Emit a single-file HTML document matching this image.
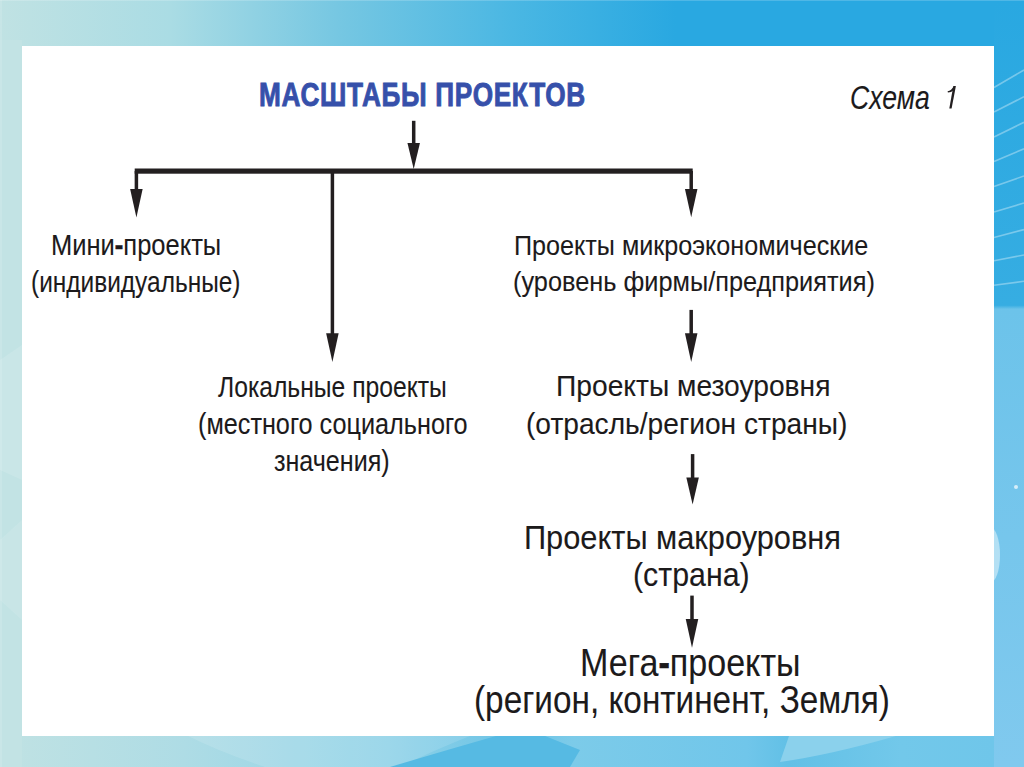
<!DOCTYPE html>
<html><head><meta charset="utf-8"><style>
html,body{margin:0;padding:0;width:1024px;height:767px;overflow:hidden}
body{position:relative;font-family:"Liberation Sans",sans-serif;background:#9fd6e6}
.bg{position:absolute;left:0;top:0}
.card{position:absolute;left:22px;top:46px;width:972px;height:690px;background:#fff}
.t{position:absolute;white-space:pre;transform-origin:0 0}
.h{font-weight:bold;-webkit-text-stroke:0.6px #1c1a1b}
.fg{position:absolute;left:0;top:0}
</style></head><body>
<svg class="bg" width="1024" height="767" viewBox="0 0 1024 767">
<defs>
<linearGradient id="gt" x1="0" y1="0" x2="1024" y2="0" gradientUnits="userSpaceOnUse">
<stop offset="0" stop-color="#c0e2e3"/><stop offset="0.166" stop-color="#aadce4"/><stop offset="0.33" stop-color="#76c7e2"/><stop offset="0.5" stop-color="#4ab7e3"/><stop offset="0.66" stop-color="#29a8e1"/><stop offset="1" stop-color="#29a8e1"/>
</linearGradient>
<linearGradient id="gb" x1="0" y1="0" x2="1024" y2="0" gradientUnits="userSpaceOnUse">
<stop offset="0" stop-color="#c0e2e3"/>
<stop offset="0.18" stop-color="#aedce5"/>
<stop offset="0.38" stop-color="#8fd2e7"/>
<stop offset="0.5" stop-color="#6ec4e6"/>
<stop offset="0.56" stop-color="#7ccbe9"/>
<stop offset="0.73" stop-color="#70c6ea"/>
<stop offset="0.77" stop-color="#62c0e6"/>
<stop offset="0.88" stop-color="#72c8ea"/>
<stop offset="0.97" stop-color="#6fc6ea"/>
<stop offset="1" stop-color="#85c9ef"/>
</linearGradient>
<linearGradient id="gr" x1="0" y1="0" x2="0" y2="767" gradientUnits="userSpaceOnUse">
<stop offset="0" stop-color="#29a8e1"/><stop offset="0.398" stop-color="#36ade2"/><stop offset="0.403" stop-color="#6cc3ea"/><stop offset="1" stop-color="#80c9ee"/>
</linearGradient>
</defs>
<rect x="0" y="0" width="1024" height="767" fill="url(#gt)"/>
<rect x="0" y="400" width="1024" height="367" fill="url(#gb)"/>
<path d="M188,736 Q220,752 265,767 L400,767 Q430,752 470,736 Z" fill="#ffffff" fill-opacity="0.12"/>
<path d="M390,767 Q440,752 496,736 L545,736 L580,750 L570,767 Z" fill="#56bae3"/>
<path d="M789,736 L896,736 Q830,755 780,762 Z" fill="#8bd1ec"/>
<rect x="994" y="0" width="30" height="767" fill="url(#gr)"/>
<rect x="0" y="40" width="22" height="727" fill="#c2e3e4"/>
<g stroke="#ffffff" stroke-opacity="0.35" stroke-width="1.6" fill="none">
<line x1="994" y1="87.5" x2="1024" y2="70"/>
<line x1="994" y1="112" x2="1024" y2="96.7"/>
<line x1="994" y1="137" x2="1024" y2="122.3"/>
<line x1="994" y1="161.6" x2="1024" y2="148.8"/>
<line x1="994" y1="186.6" x2="1024" y2="175.9"/>
<line x1="994" y1="212" x2="1024" y2="203"/>
<line x1="994" y1="237.4" x2="1024" y2="229.6"/>
<line x1="994" y1="260.8" x2="1024" y2="255"/>
<line x1="994" y1="285.2" x2="1024" y2="281.3"/>
</g>
<rect x="0" y="0" width="1024" height="1" fill="#ffffff" fill-opacity="0.18"/>
<rect x="0" y="0" width="2" height="767" fill="#ffffff" fill-opacity="0.12"/>
<polygon points="0,360 22,345 22,480 0,470" fill="#ffffff" fill-opacity="0.12"/>
<polygon points="0,540 22,520 22,620 0,600" fill="#ffffff" fill-opacity="0.10"/>
<ellipse cx="990" cy="555" rx="10" ry="28" fill="#ffffff" fill-opacity="0.45"/>
<circle cx="1016" cy="487" r="2" fill="#ffffff" fill-opacity="0.7"/>
</svg>

<div class="card"></div>
<svg class="fg" width="1024" height="767" viewBox="0 0 1024 767"><g fill="#231f20">
<rect x="134.7" y="168.5" width="558" height="5.2"/>
<rect x="411.95" y="120.8" width="3.5" height="23.200000000000003"/><polygon points="407.45,143 419.95,143 413.70,169"/>
<rect x="134.65" y="171" width="3.5" height="19"/><polygon points="130.15,189 142.65,189 136.40,217.6"/>
<rect x="689.45" y="171" width="3.5" height="19"/><polygon points="684.95,189 697.45,189 691.20,217.3"/>
<rect x="330.65" y="171" width="3.5" height="163.3"/><polygon points="326.15,333.3 338.65,333.3 332.40,362"/>
<path d="M953.3,85.9 L955.9,85.9 L951.6,108.6 L949.3,108.6 Z"/><path d="M953.5,86.5 Q951.5,90.5 947.6,91.2 L947.9,92.6 Q951.8,92.4 954.6,89.6 Z"/>
<rect x="689.45" y="309.9" width="3.5" height="24.400000000000034"/><polygon points="684.95,333.3 697.45,333.3 691.20,362"/>
<rect x="690.85" y="454.1" width="3.5" height="24.399999999999977"/><polygon points="686.35,477.5 698.85,477.5 692.60,504.6"/>
<rect x="690.25" y="595.6" width="3.5" height="24.5"/><polygon points="685.75,619.1 698.25,619.1 692.00,647.8"/>
</g></svg>
<div class="t" style="left:259.32px;top:78.32px;font-size:33.00px;line-height:33.00px;font-weight:bold;font-style:normal;color:#3650aa;letter-spacing:0.025em;transform:scaleX(0.7943);-webkit-text-stroke:0.9px #3650aa;">МАСШТАБЫ ПРОЕКТОВ</div>
<div class="t" style="left:850.45px;top:80.77px;font-size:33.29px;line-height:33.29px;font-weight:normal;font-style:italic;color:#1c1a1b;letter-spacing:0em;transform:scaleX(0.7987);-webkit-text-stroke:0.1px #1c1a1b;">Схема</div>
<div class="t" style="left:50.91px;top:230.84px;font-size:28.71px;line-height:28.71px;font-weight:normal;font-style:normal;color:#1c1a1b;letter-spacing:0em;transform:scaleX(0.8888);-webkit-text-stroke:0.1px #1c1a1b;">Мини<b class=h>-</b>проекты</div>
<div class="t" style="left:30.88px;top:268.04px;font-size:28.71px;line-height:28.71px;font-weight:normal;font-style:normal;color:#1c1a1b;letter-spacing:0em;transform:scaleX(0.8515);-webkit-text-stroke:0.1px #1c1a1b;">(индивидуальные)</div>
<div class="t" style="left:513.64px;top:232.03px;font-size:28.14px;line-height:28.14px;font-weight:normal;font-style:normal;color:#1c1a1b;letter-spacing:0em;transform:scaleX(0.8942);-webkit-text-stroke:0.1px #1c1a1b;">Проекты микроэкономические</div>
<div class="t" style="left:513.13px;top:267.73px;font-size:28.14px;line-height:28.14px;font-weight:normal;font-style:normal;color:#1c1a1b;letter-spacing:0em;transform:scaleX(0.9005);-webkit-text-stroke:0.1px #1c1a1b;">(уровень фирмы/предприятия)</div>
<div class="t" style="left:218.40px;top:373.14px;font-size:28.71px;line-height:28.71px;font-weight:normal;font-style:normal;color:#1c1a1b;letter-spacing:0em;transform:scaleX(0.8595);-webkit-text-stroke:0.1px #1c1a1b;">Локальные проекты</div>
<div class="t" style="left:197.64px;top:409.84px;font-size:28.71px;line-height:28.71px;font-weight:normal;font-style:normal;color:#1c1a1b;letter-spacing:0em;transform:scaleX(0.8789);-webkit-text-stroke:0.1px #1c1a1b;">(местного социального</div>
<div class="t" style="left:274.30px;top:446.64px;font-size:28.71px;line-height:28.71px;font-weight:normal;font-style:normal;color:#1c1a1b;letter-spacing:0em;transform:scaleX(0.8745);-webkit-text-stroke:0.1px #1c1a1b;">значения)</div>
<div class="t" style="left:556.39px;top:371.41px;font-size:30.29px;line-height:30.29px;font-weight:normal;font-style:normal;color:#1c1a1b;letter-spacing:0em;transform:scaleX(0.9313);-webkit-text-stroke:0.1px #1c1a1b;">Проекты мезоуровня</div>
<div class="t" style="left:525.96px;top:408.51px;font-size:30.29px;line-height:30.29px;font-weight:normal;font-style:normal;color:#1c1a1b;letter-spacing:0em;transform:scaleX(0.9297);-webkit-text-stroke:0.1px #1c1a1b;">(отрасль/регион страны)</div>
<div class="t" style="left:523.89px;top:520.05px;font-size:34.14px;line-height:34.14px;font-weight:normal;font-style:normal;color:#1c1a1b;letter-spacing:0em;transform:scaleX(0.9020);-webkit-text-stroke:0.1px #1c1a1b;">Проекты макроуровня</div>
<div class="t" style="left:632.93px;top:557.05px;font-size:34.14px;line-height:34.14px;font-weight:normal;font-style:normal;color:#1c1a1b;letter-spacing:0em;transform:scaleX(0.8889);-webkit-text-stroke:0.1px #1c1a1b;">(страна)</div>
<div class="t" style="left:580.22px;top:642.82px;font-size:39.14px;line-height:39.14px;font-weight:normal;font-style:normal;color:#1c1a1b;letter-spacing:0em;transform:scaleX(0.8715);-webkit-text-stroke:0.1px #1c1a1b;">Мега<b class=h>-</b>проекты</div>
<div class="t" style="left:473.55px;top:679.82px;font-size:39.14px;line-height:39.14px;font-weight:normal;font-style:normal;color:#1c1a1b;letter-spacing:0em;transform:scaleX(0.8519);-webkit-text-stroke:0.1px #1c1a1b;">(регион, континент, Земля)</div>
</body></html>
